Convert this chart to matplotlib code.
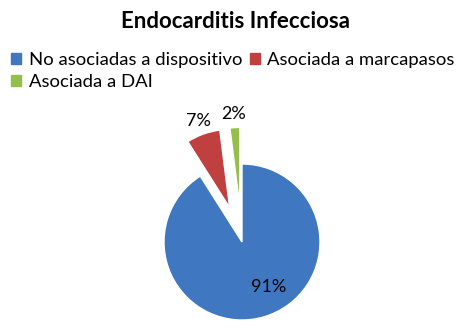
import matplotlib.pyplot as plt
import matplotlib.patches as mpatches
import numpy as np

labels = ['No asociadas a dispositivo', 'Asociada a marcapasos', 'Asociada a DAI']
values = [91, 7, 2]
colors = ['#3F77C1', '#C0403F', '#93BF4A']
explode = [0, 0.47, 0.47]

fig = plt.figure(figsize=(4.57, 3.30), dpi=100)
fig.patch.set_facecolor('white')

ax = fig.add_axes([164 / 457, 10 / 330, 156 / 457, 156 / 330])
wedges, texts, autotexts = ax.pie(values, colors=colors, explode=explode,
                                  startangle=90, counterclock=False,
                                  autopct='%1.0f%%', pctdistance=0.67,
                                  wedgeprops=dict(edgecolor='white', linewidth=1.0),
                                  textprops=dict(fontsize=13, family='Lato'))
ax.set_xlim(-1, 1)
ax.set_ylim(-1, 1)
ax.set_aspect('equal')

for i, (w, t) in enumerate(zip(wedges, autotexts)):
    w.set_clip_on(False)
    t.set_clip_on(False)
    ang = np.deg2rad((w.theta1 + w.theta2) / 2)
    cx, cy = w.center
    if i == 0:
        ang = ang + np.deg2rad(14)
        t.set_position((cx + 0.67 * np.cos(ang), cy + 0.67 * np.sin(ang)))
    else:
        t.set_position((cx + 1.18 * np.cos(ang), cy + 1.18 * np.sin(ang)))

fig.text(0.515, 0.935, 'Endocarditis Infecciosa', ha='center', va='center',
         fontsize=16, fontweight='bold', family='Lato')

handles = [mpatches.Patch(color=c) for c in colors]
order = [0, 2, 1]
fig.legend([handles[i] for i in order], [labels[i] for i in order],
           ncol=2, loc='upper left', bbox_to_anchor=(0.0, 0.875),
           frameon=False, prop=dict(family='Lato', size=13.3),
           handlelength=0.55, handleheight=0.55, handletextpad=0.4,
           columnspacing=0.4, labelspacing=0.3, borderaxespad=0.2)

fig.savefig('out.png', dpi=100)
